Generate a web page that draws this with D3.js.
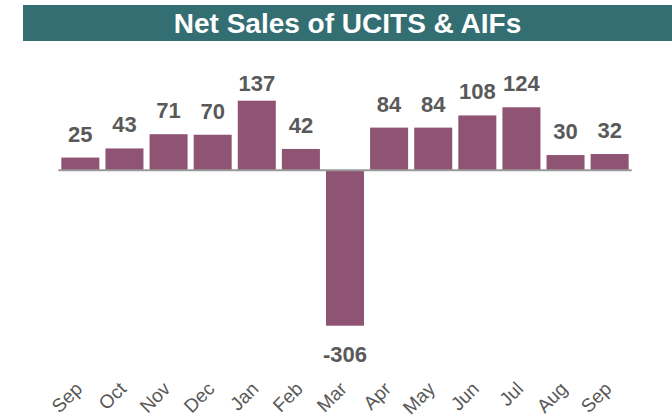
<!DOCTYPE html>
<html>
<head>
<meta charset="utf-8">
<script src="https://cdn.jsdelivr.net/npm/d3@7"></script>
<style>
  body { margin: 0; background: #ffffff; }
  svg { display: block; font-family: "Liberation Sans", Arial, sans-serif; }
</style>
</head>
<body>
<svg id="chart" width="672" height="419"></svg>
<script>
// Data
var months = ["Sep", "Oct", "Nov", "Dec", "Jan", "Feb", "Mar", "Apr", "May", "Jun", "Jul", "Aug", "Sep"];
var netSales = [25, 43, 71, 70, 137, 42, -306, 84, 84, 108, 124, 30, 32];
var chartTitle = "Net Sales of UCITS & AIFs";

var fontFam = "'Liberation Sans', Arial, sans-serif";

var svg = d3.select("#chart"),
    width = +svg.attr("width"),
    height = +svg.attr("height");

// Title bar
svg.append("rect")
    .attr("x", 23).attr("y", 5)
    .attr("width", width - 23).attr("height", 36)
    .attr("fill", "#336e72");

svg.append("text")
    .attr("x", (23 + width) / 2)
    .attr("y", 32.5)
    .attr("text-anchor", "middle")
    .attr("fill", "#ffffff")
    .style("font-family", fontFam)
    .style("font-size", "28px")
    .style("font-weight", "bold")
    .text(chartTitle);

// Scales
var x = d3.scaleBand()
    .domain(d3.range(months.length))
    .range([58.3, 631.7])
    .paddingInner(0.138)
    .paddingOuter(0.069);

var y = d3.scaleLinear()
    .domain([-306, 137])
    .range([325.7, 100.7]);

// Bars
svg.append("g")
    .selectAll("rect")
    .data(netSales)
    .enter().append("rect")
        .attr("x", function(d, i) { return x(i); })
        .attr("y", function(d) { return d >= 0 ? y(d) : y(0); })
        .attr("width", x.bandwidth())
        .attr("height", function(d) { return Math.abs(y(d) - y(0)); })
        .attr("fill", "#8f5373");

// Zero line
svg.append("line")
    .attr("x1", x.range()[0]).attr("x2", x.range()[1])
    .attr("y1", y(0)).attr("y2", y(0))
    .attr("stroke", "#9a9a9a")
    .attr("stroke-width", 2);

// Value labels
svg.append("g")
    .selectAll("text")
    .data(netSales)
    .enter().append("text")
        .attr("x", function(d, i) { return x(i) + x.bandwidth() / 2; })
        .attr("y", function(d) {
            if (d < 0) return y(d) + 36;
            return Math.max(y(d) - 16, 91); // keep labels inside plot top
        })
        .attr("text-anchor", "middle")
        .attr("fill", "#595959")
        .style("font-family", fontFam)
        .style("font-size", "22px")
        .style("font-weight", "bold")
        .text(function(d) { return d; });

// Month labels, rotated 45 degrees
svg.append("g")
    .selectAll("text")
    .data(months)
    .enter().append("text")
        .attr("transform", function(d, i) {
            var cx = x(i) + x.bandwidth() / 2;
            return "translate(" + (cx + 3) + ",390) rotate(-45)";
        })
        .attr("text-anchor", "end")
        .attr("fill", "#595959")
        .style("font-family", fontFam)
        .style("font-size", "19px")
        .text(function(d) { return d; });
</script>
</body>
</html>
